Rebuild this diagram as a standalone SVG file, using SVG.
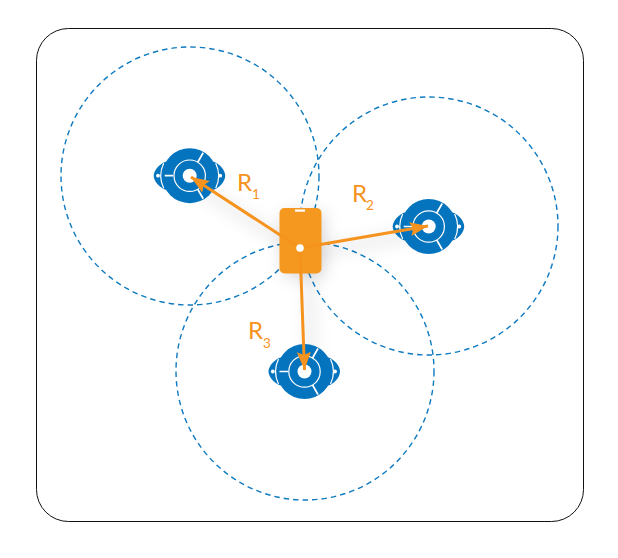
<svg xmlns="http://www.w3.org/2000/svg" width="618" height="558" viewBox="0 0 618 558">
<style>
.range{fill:none;stroke:#0f7ac0;stroke-width:1.4;stroke-dasharray:5.500 4}
.body{fill:#0574be}
.w{fill:#fff}
.wl{fill:none;stroke:#fff;stroke-width:1.2}
.spoke{fill:none;stroke:#fff;stroke-width:1.700}
.arrow{fill:none;stroke:#f5931e;stroke-width:3}
.lab{font-family:"Lato","Open Sans",sans-serif;fill:#f5931e;font-weight:400}
.big{font-size:24px}
.sub{font-size:13.500px}
</style>
<defs>
<marker id="head" markerUnits="userSpaceOnUse" markerWidth="20" markerHeight="16" refX="18" refY="8" orient="auto">
<path d="M0 1L18 8L0 15L3 8Z" fill="#f5931e"/>
</marker>
<filter id="soft" x="-60%" y="-60%" width="220%" height="220%"><feGaussianBlur stdDeviation="8"/></filter>
<g id="anchor">
<path class="body" d="M-24 -14C-29 -12.500 -36 -6 -36 0C-36 6 -29 12.500 -24 14L24 14C29 12.500 35.500 6 35.500 0C35.500 -6 29 -12.500 24 -14Z"/>
<circle class="body" r="27.500"/>
<path class="wl" d="M-26 -12.500A28.800 28.800 0 0 0 -26 12.500M26 -12.500A28.800 28.800 0 0 1 26 12.500"/>
<circle class="wl" r="15.700"/>
<circle class="w" r="7"/>
<circle class="w" cx="-31.700" r="1.900"/>
<circle class="w" cx="30.500" r="1.900"/>
<path class="spoke" d="M-25 0H-16.500M8 -13.500L13.500 -23M8 13.500L13.500 23"/>
</g>
</defs>
<rect x="36.500" y="28.500" width="547" height="493" rx="32" fill="none" stroke="#111" stroke-width="1"/>
<g id="ranges">
<circle class="range" cx="190" cy="176" r="129"/>
<circle class="range" cx="429" cy="226" r="129"/>
<circle class="range" cx="305" cy="371" r="129"/>
</g>
<g id="shadows" filter="url(#soft)" fill="none" stroke="#000" stroke-opacity=".1">
<path stroke-width="8" d="M304 254L196 186M304 254L430 232M308 254L312 375"/>
<rect x="283" y="212" width="42" height="65" rx="5" fill="#000" fill-opacity=".14" stroke="none"/>
</g>
<g id="anchor1"><use href="#anchor" x="189.700" y="175.700"/></g>
<g id="anchor2"><use href="#anchor" x="428.700" y="226.500"/></g>
<g id="anchor3"><use href="#anchor" x="304.500" y="371.500"/></g>
<g id="tag">
<rect x="279.500" y="208" width="42" height="65.500" rx="5" fill="#f5981f"/>
<rect x="295" y="209.500" width="10" height="2.200" fill="#fff"/>
</g>
<g id="connectors">
<path class="arrow" marker-end="url(#head)" d="M300 248L191 177"/>
<path class="arrow" marker-end="url(#head)" d="M300 248L428 226"/>
<path class="arrow" marker-end="url(#head)" d="M300 248L304.500 370"/>
</g>
<circle id="tag-dot" cx="300" cy="248" r="3.800" fill="#fff"/>
<g id="labels">
<text class="lab big" x="237" y="191">R</text><text class="lab sub" x="252" y="199">1</text>
<text class="lab big" x="352" y="202">R</text><text class="lab sub" x="366" y="210">2</text>
<text class="lab big" x="248" y="339">R</text><text class="lab sub" x="263" y="348">3</text>
</g>
</svg>
